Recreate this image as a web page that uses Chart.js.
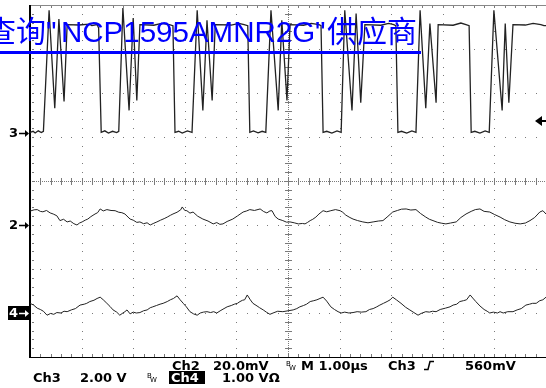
<!DOCTYPE html>
<html>
<head>
<meta charset="utf-8">
<title>NCP1595 scope capture</title>
<script src="https://cdn.jsdelivr.net/npm/chart.js@4.4.0/dist/chart.umd.min.js"></script>
<style>
  html, body { margin: 0; padding: 0; background: #fff; }
  #scope { display: block; }
</style>
</head>
<body>
<canvas id="scope" width="546" height="388"></canvas>
<script>
// Ch3 - switch node, volts (2.00 V/div)
const ch3Time = [0, 0.06, 0.1, 0.16, 0.22, 0.26, 0.37, 0.48, 0.56, 0.66, 0.72, 0.95, 1.15, 1.2, 1.3, 1.33, 1.38,
  1.45, 1.52, 1.6, 1.68, 1.72, 1.80, 1.92, 2.00, 2.07, 2.13, 2.4, 2.55, 2.7, 2.77, 2.81,
  2.88, 2.95, 3.05, 3.14, 3.24, 3.35, 3.43, 3.53, 3.59, 3.9, 4.05, 4.15, 4.22, 4.26,
  4.33, 4.42, 4.5, 4.57, 4.67, 4.81, 4.88, 4.98, 5.04, 5.3, 5.45, 5.6, 5.64, 5.68,
  5.75, 5.85, 5.95, 6.03, 6.10, 6.24, 6.32, 6.41, 6.49, 6.8, 6.95, 7.05, 7.09, 7.13,
  7.2, 7.3, 7.4, 7.48, 7.56, 7.67, 7.75, 7.87, 7.91, 8.2, 8.35, 8.45, 8.51, 8.55,
  8.62, 8.72, 8.82, 8.9, 8.99, 9.15, 9.21, 9.28, 9.36, 9.6, 9.75, 9.9, 9.96, 10];
const ch3Volts = [0.05, 0.1, 0.02, 0.12, 0.04, 0.1, 5.6, 1.15, 5.2, 1.45, 4.95, 4.93, 4.97, 4.9, 4.95, 4.8, 0.05,
  0.12, 0.02, 0.1, 0.04, 0.1, 5.7, 1.05, 5.25, 1.5, 4.95, 4.92, 5.0, 4.95, 4.9, 0.05,
  0.1, 0.02, 0.12, 0.05, 5.6, 1.05, 5.15, 1.5, 4.95, 4.93, 5.0, 4.95, 4.9, 0.05,
  0.12, 0.03, 0.1, 0.05, 5.6, 1.05, 5.15, 1.5, 4.95, 4.92, 5.0, 4.95, 4.9, 0.05,
  0.1, 0.02, 0.12, 0.05, 5.6, 1.05, 5.45, 1.4, 4.95, 4.92, 5.0, 4.95, 4.9, 0.05,
  0.1, 0.02, 0.12, 0.05, 5.6, 1.15, 5.0, 1.4, 4.95, 4.92, 5.02, 4.95, 4.9, 0.05,
  0.1, 0.02, 0.12, 0.05, 5.6, 1.05, 5.0, 1.4, 4.95, 4.93, 5.0, 4.95, 4.9, 4.9];

// Ch2 - output ripple, mV (20.0 mV/div)
const ch2Time = [0, 0.08, 0.14, 0.2, 0.25, 0.32, 0.39, 0.45, 0.52, 0.58,
  0.65, 0.72, 0.78, 0.85, 0.91, 0.96, 1.01, 1.07, 1.12, 1.18,
  1.26, 1.31, 1.36, 1.42, 1.49, 1.57, 1.65, 1.72, 1.78, 1.84,
  1.9, 1.94, 2.0, 2.07, 2.13, 2.2, 2.27, 2.33, 2.4, 2.46,
  2.53, 2.6, 2.66, 2.72, 2.77, 2.85, 2.92, 2.95, 3.0, 3.04,
  3.1, 3.16, 3.25, 3.35, 3.45, 3.55, 3.62, 3.68, 3.74, 3.82,
  3.93, 4.02, 4.13, 4.2, 4.26, 4.35, 4.46, 4.53, 4.59, 4.65,
  4.69, 4.75, 4.81, 4.9, 4.97, 5.04, 5.12, 5.2, 5.28, 5.33,
  5.38, 5.43, 5.48, 5.54, 5.6, 5.68, 5.75, 5.83, 5.92, 6.01,
  6.06, 6.12, 6.2, 6.26, 6.35, 6.45, 6.55, 6.65, 6.75, 6.84,
  6.92, 7.03, 7.12, 7.2, 7.29, 7.38, 7.48, 7.57, 7.67, 7.74,
  7.81, 7.9, 7.98, 8.06, 8.15, 8.26, 8.35, 8.45, 8.55, 8.63,
  8.72, 8.8, 8.91, 9.0, 9.11, 9.2, 9.3, 9.4, 9.5, 9.6,
  9.69, 9.78, 9.88, 9.94, 10];
const ch2mV = [6.3, 6.9, 7.0, 6.2, 6.0, 6.6, 5.5, 5.0, 4.2, 2.0,
  2.6, 1.4, 1.8, 0.6, 0.0, 0.9, 1.4, 2.2, 2.7, 3.8,
  5.0, 5.6, 7.3, 6.4, 7.0, 6.6, 6.5, 5.8, 5.6, 5.0,
  3.6, 2.7, 2.2, 1.2, 1.4, 0.6, 1.0, 0.0, 0.8, 1.4,
  2.2, 2.9, 3.6, 4.4, 5.0, 5.8, 6.9, 8.2, 6.6, 6.5,
  5.4, 5.9, 4.0, 2.7, 1.8, 0.5, 1.1, 0.3, 0.5, 1.6,
  2.7, 4.1, 5.9, 6.4, 7.0, 6.6, 7.3, 6.1, 5.5, 6.4,
  6.5, 3.9, 2.7, 2.0, 1.3, 1.4, 1.0, 0.5, 0.7, 0.5,
  1.2, 2.0, 2.6, 3.6, 5.0, 6.5, 6.0, 6.5, 7.0, 6.5,
  5.8, 4.5, 3.4, 2.7, 2.0, 1.4, 1.0, 1.4, 1.8, 2.0,
  3.6, 5.9, 6.6, 7.2, 7.3, 6.8, 7.0, 5.2, 3.6, 2.6,
  2.0, 1.2, 0.8, 0.5, 0.9, 1.4, 3.4, 5.0, 6.2, 7.0,
  7.3, 6.2, 5.9, 4.8, 3.6, 2.4, 1.4, 0.8, 0.5, 0.9,
  2.0, 3.4, 5.9, 6.5, 5.0];

// Ch4 - inductor current probe, volts (1.00 V/div)
const ch4Time = [0, 0.07, 0.14, 0.2, 0.26, 0.33, 0.4, 0.46, 0.52, 0.6,
  0.66, 0.72, 0.8, 0.88, 0.97, 1.05, 1.1, 1.16, 1.24, 1.3,
  1.36, 1.42, 1.49, 1.55, 1.61, 1.68, 1.74, 1.8, 1.84, 1.88,
  1.94, 2.0, 2.06, 2.13, 2.2, 2.27, 2.33, 2.38, 2.45, 2.52,
  2.58, 2.66, 2.72, 2.78, 2.85, 2.91, 2.97, 3.03, 3.1, 3.17,
  3.24, 3.3, 3.36, 3.43, 3.5, 3.56, 3.62, 3.7, 3.76, 3.82,
  3.9, 3.96, 4.02, 4.07, 4.12, 4.16, 4.21, 4.27, 4.32, 4.4,
  4.45, 4.52, 4.58, 4.65, 4.71, 4.8, 4.9, 5.0, 5.1, 5.17,
  5.23, 5.3, 5.36, 5.43, 5.5, 5.56, 5.62, 5.68, 5.75, 5.83,
  5.9, 5.97, 6.03, 6.1, 6.18, 6.26, 6.34, 6.42, 6.51, 6.58,
  6.65, 6.72, 6.78, 6.85, 6.92, 6.98, 7.03, 7.1, 7.19, 7.28,
  7.36, 7.44, 7.52, 7.58, 7.67, 7.74, 7.8, 7.87, 7.95, 8.05,
  8.14, 8.2, 8.27, 8.33, 8.4, 8.46, 8.53, 8.58, 8.64, 8.72,
  8.8, 8.86, 8.91, 8.98, 9.06, 9.11, 9.17, 9.26, 9.36, 9.44,
  9.52, 9.61, 9.68, 9.74, 9.81, 9.88, 9.94, 10];
const ch4Volts = [0.22, 0.18, 0.11, 0.08, 0.04, -0.05, -0.01, -0.03, 0.01, 0.0,
  0.04, 0.03, 0.07, 0.1, 0.18, 0.2, 0.22, 0.26, 0.29, 0.33,
  0.36, 0.3, 0.22, 0.15, 0.07, 0.02, -0.05, 0.0, 0.03, 0.07,
  -0.02, 0.02, 0.0, 0.01, 0.05, 0.07, 0.12, 0.14, 0.17, 0.2,
  0.22, 0.26, 0.3, 0.33, 0.39, 0.3, 0.22, 0.14, 0.03, -0.02,
  -0.05, 0.0, 0.02, 0.03, 0.01, 0.03, 0.0, 0.06, 0.1, 0.14,
  0.17, 0.2, 0.22, 0.26, 0.29, 0.3, 0.41, 0.3, 0.22, 0.16,
  0.12, 0.07, 0.02, -0.03, 0.0, 0.04, 0.03, 0.05, 0.07, 0.1,
  0.14, 0.17, 0.2, 0.26, 0.28, 0.3, 0.33, 0.36, 0.27, 0.14,
  0.08, 0.03, 0.0, 0.02, 0.0, 0.01, 0.03, 0.02, 0.03, 0.08,
  0.1, 0.14, 0.18, 0.22, 0.26, 0.3, 0.36, 0.3, 0.22, 0.13,
  0.07, 0.01, -0.05, -0.01, 0.03, 0.02, 0.04, 0.03, 0.08, 0.11,
  0.14, 0.18, 0.2, 0.26, 0.28, 0.3, 0.41, 0.34, 0.26, 0.16,
  0.08, 0.04, 0.0, 0.02, 0.0, 0.03, 0.0, 0.03, 0.03, 0.07,
  0.1, 0.18, 0.2, 0.22, 0.22, 0.28, 0.3, 0.36];

// channel settings: units per division and ground marker position (divisions from centre)
const ch3PerDiv = 2, ch3Pos = 1.08;
const ch2PerDiv = 20, ch2Pos = -1.0;
const ch4PerDiv = 1, ch4Pos = -3.0;
const triggerVolts = 0.56;

// overlay link text, split so each run can be placed on its own
const watermarkParts = ['查询', '"', 'NCP1595AMNR2G', '"', '供应商'];

function toPoints(times, values, perDiv, pos) {
  return times.map((t, i) => ({ x: t, y: values[i] / perDiv + pos }));
}

// Scope graticule: dotted divisions, centre cross with ticks, frame
const graticule = {
  id: 'graticule',
  beforeDatasetsDraw(chart) {
    const { ctx, chartArea: a, scales: { x, y } } = chart;
    ctx.save();
    ctx.fillStyle = '#7a7a7a';
    for (let i = 1; i < 10; i++) {
      if (i === 5) continue;
      const px = Math.round(x.getPixelForValue(i));
      for (let j = 0; j <= 40; j++) {
        ctx.fillRect(px, Math.round(y.getPixelForValue(-4 + j * 0.2)), 1, 1);
      }
    }
    for (let i = -3; i <= 3; i++) {
      if (i === 0) continue;
      const py = Math.round(y.getPixelForValue(i));
      for (let j = 0; j <= 50; j++) {
        ctx.fillRect(Math.round(x.getPixelForValue(j * 0.2)), py, 1, 1);
      }
    }
    // centre cross
    const cx = Math.round(x.getPixelForValue(5));
    const cy = Math.round(y.getPixelForValue(0));
    for (let px = a.left; px < a.right; px += 2) ctx.fillRect(px, cy, 1, 1);
    for (let py = a.top; py < a.bottom; py += 2) ctx.fillRect(cx, py, 1, 1);
    for (let j = 0; j <= 50; j++) {
      const px = Math.round(x.getPixelForValue(j * 0.2));
      ctx.fillRect(px, cy - 3, 1, 7);
      ctx.fillRect(px, a.top, 1, 3);
      ctx.fillRect(px, a.bottom - 3, 1, 3);
    }
    for (let j = 0; j <= 40; j++) {
      const py = Math.round(y.getPixelForValue(-4 + j * 0.2));
      ctx.fillRect(cx - 3, py, 7, 1);
      ctx.fillRect(a.left + 2, py, 2, 1);
    }
    // frame
    ctx.fillStyle = '#888';
    ctx.fillRect(a.left, a.top, a.right - a.left, 1);
    ctx.fillStyle = '#000';
    ctx.fillRect(a.left - 1, a.top, 2, a.bottom - a.top + 1);
    ctx.fillRect(a.left, a.bottom, a.right - a.left, 1);
    ctx.restore();
  },
  afterDraw(chart) {
    const { ctx, scales: { y } } = chart;
    ctx.save();
    drawMarker(ctx, '3', y.getPixelForValue(ch3Pos), false);
    drawMarker(ctx, '2', y.getPixelForValue(ch2Pos), false);
    drawMarker(ctx, '4', y.getPixelForValue(ch4Pos), true);

    // trigger level arrow on the right edge
    const ty = Math.round(y.getPixelForValue(ch3Pos + triggerVolts / ch3PerDiv));
    ctx.fillStyle = '#000';
    ctx.beginPath();
    ctx.moveTo(535, ty);
    ctx.lineTo(542, ty - 5);
    ctx.lineTo(542, ty + 5);
    ctx.closePath();
    ctx.fill();
    ctx.fillRect(541, ty - 1, 5, 2);

    drawReadout(ctx);
    drawWatermark(ctx);
    ctx.restore();
  }
};

function drawMarker(ctx, label, py, inverse) {
  py = Math.round(py);
  let fg = '#000';
  if (inverse) {
    ctx.fillStyle = '#000';
    ctx.fillRect(8, py - 7, 22, 14);
    fg = '#fff';
  }
  ctx.fillStyle = fg;
  ctx.strokeStyle = fg;
  ctx.font = 'bold 13px "DejaVu Sans"';
  ctx.textBaseline = 'middle';
  ctx.textAlign = 'left';
  ctx.fillText(label, 9, py + 1);
  ctx.lineWidth = 1.5;
  ctx.beginPath();
  ctx.moveTo(19, py + 0.5);
  ctx.lineTo(26, py + 0.5);
  ctx.stroke();
  ctx.beginPath();
  ctx.moveTo(29, py + 0.5);
  ctx.lineTo(25, py - 3);
  ctx.lineTo(25, py + 4);
  ctx.closePath();
  ctx.fill();
}

function drawBw(ctx, x, base) {
  ctx.font = '7px "DejaVu Sans"';
  ctx.fillText('B', x, base - 4);
  ctx.fillText('W', x + 3, base);
}

function drawReadout(ctx) {
  ctx.fillStyle = '#000';
  ctx.textBaseline = 'alphabetic';
  ctx.textAlign = 'left';
  const big = 'bold 13px "DejaVu Sans"';
  // line 1
  ctx.font = big;
  ctx.fillText('Ch2', 172, 370);
  ctx.fillText('20.0mV', 213, 370);
  drawBw(ctx, 286, 370);
  ctx.font = big;
  ctx.fillText('M 1.00\u00b5s', 301, 370);
  ctx.fillText('Ch3', 388, 370);
  ctx.fillText('560mV', 465, 370);
  // rising edge symbol
  ctx.strokeStyle = '#000';
  ctx.lineWidth = 1.5;
  ctx.beginPath();
  ctx.moveTo(424, 369.5);
  ctx.lineTo(428, 369.5);
  ctx.lineTo(430, 361.5);
  ctx.lineTo(434, 361.5);
  ctx.stroke();
  // line 2
  ctx.font = big;
  ctx.fillText('Ch3', 33, 382);
  ctx.fillText('2.00 V', 80, 382);
  drawBw(ctx, 147, 382);
  ctx.fillStyle = '#000';
  ctx.fillRect(169, 371, 36, 13);
  ctx.fillStyle = '#fff';
  ctx.font = big;
  ctx.fillText('Ch4', 171, 382);
  ctx.fillStyle = '#000';
  ctx.fillText('1.00 V\u03a9', 222, 382);
}

function drawWatermark(ctx) {
  ctx.fillStyle = '#0000ff';
  ctx.textBaseline = 'alphabetic';
  ctx.textAlign = 'left';
  const cjk = '30px "Noto Sans CJK SC", sans-serif';
  const latin = '29.5px "Liberation Sans", sans-serif';
  const runs = [[cjk, -14], [latin, 46], [latin, 61], [latin, 315], [cjk, 327]];
  watermarkParts.forEach((part, i) => {
    ctx.font = runs[i][0];
    ctx.fillText(part, runs[i][1], 42);
  });
  ctx.fillRect(0, 51, 421, 3);
}

document.addEventListener('DOMContentLoaded', function() {
  const canvas = document.getElementById('scope');
  const trace = { pointRadius: 0, tension: 0, fill: false };

  new Chart(canvas, {
    type: 'line',
    data: {
      datasets: [
        Object.assign({ label: 'Ch3', data: toPoints(ch3Time, ch3Volts, ch3PerDiv, ch3Pos), borderColor: '#222', borderWidth: 1.3 }, trace),
        Object.assign({ label: 'Ch2', data: toPoints(ch2Time, ch2mV, ch2PerDiv, ch2Pos), borderColor: '#222', borderWidth: 1 }, trace),
        Object.assign({ label: 'Ch4', data: toPoints(ch4Time, ch4Volts, ch4PerDiv, ch4Pos), borderColor: '#222', borderWidth: 1 }, trace)
      ]
    },
    options: {
      responsive: false,
      animation: false,
      parsing: false,
      layout: { padding: { left: 30, top: 5, right: 0, bottom: 31 } },
      scales: {
        x: { type: 'linear', min: 0, max: 10, display: false },
        y: { type: 'linear', min: -4, max: 4, display: false }
      },
      plugins: {
        legend: { display: false },
        tooltip: { enabled: false }
      }
    },
    plugins: [graticule]
  });
});
</script>
</body>
</html>
